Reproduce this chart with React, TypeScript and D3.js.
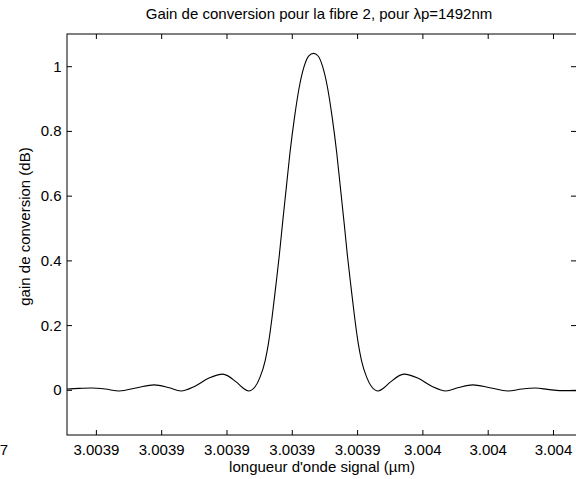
import React from "react";
import * as d3 from "d3";

const W = 576;
const H = 479;

const title = "Gain de conversion pour la fibre 2, pour λp=1492nm";
const xLabel = "longueur d'onde signal (µm)";
const yLabel = "gain de conversion (dB)";

const xDomain = [3.003851, 3.0040072];
const yDomain = [-0.138, 1.101];

const xTicks = [3.00386, 3.00388, 3.0039, 3.00392, 3.00394, 3.00396, 3.00398, 3.004];
const yTicks = [0, 0.2, 0.4, 0.6, 0.8, 1];

// wavelength (µm)
const wavelength = [
  3.003851, 3.0038547, 3.0038584, 3.0038627, 3.003867, 3.0038725, 3.0038777, 3.003882,
  3.0038859, 3.0038902, 3.0038945, 3.0038987, 3.0039028, 3.0039049, 3.0039066,
  3.0039086, 3.0039101, 3.0039117, 3.0039127, 3.0039138, 3.0039149, 3.003916,
  3.003917, 3.0039181, 3.0039193, 3.0039207, 3.0039221, 3.0039236, 3.003925,
  3.0039265, 3.0039279, 3.0039293, 3.0039308, 3.0039322, 3.0039336, 3.0039348,
  3.0039359, 3.0039369, 3.003938, 3.0039391, 3.0039402, 3.0039412, 3.0039428,
  3.0039443, 3.0039463, 3.003948, 3.0039501, 3.0039542, 3.0039584, 3.0039627,
  3.003967, 3.003971, 3.0039753, 3.0039805, 3.003986, 3.0039903, 3.0039945,
  3.0039982, 3.0040019, 3.0040072,
];
// conversion gain (dB)
const gain = [
  0.004, 0.006, 0.007, 0.004, -0.002, 0.008, 0.017, 0.009,
  -0.002, 0.013, 0.038, 0.05, 0.026, 0.007, -0.002,
  0.011, 0.04, 0.092, 0.145, 0.225, 0.318, 0.415,
  0.515, 0.62, 0.735, 0.845, 0.935, 1.0, 1.033,
  1.041, 1.033, 1.0, 0.935, 0.845, 0.735, 0.62,
  0.515, 0.415, 0.318, 0.225, 0.145, 0.092, 0.04,
  0.011, -0.002, 0.007, 0.026, 0.05, 0.038, 0.013,
  -0.002, 0.009, 0.017, 0.008, -0.002, 0.004, 0.007,
  0.003, -0.001, -0.001,
];

const L = 67, R = 577, T = 34, B = 435;
const font = "'Liberation Sans', Arial, Helvetica, sans-serif";

export default function App() {
  const x = d3.scaleLinear().domain(xDomain).range([L, R]);
  const y = d3.scaleLinear().domain(yDomain).range([B, T]);
  const fmt = d3.format(".5~g");
  const pts: [number, number][] = wavelength.map((w, i) => [w, gain[i]]);
  const line = d3
    .line<[number, number]>()
    .x((d) => x(d[0]))
    .y((d) => y(d[1]))
    .curve(d3.curveMonotoneX);
  return (
    <svg
      width={W}
      height={H}
      style={{ position: "absolute", left: 0, top: 0, background: "#fff" }}
      fontFamily={font}
    >
      <rect x={0} y={0} width={W} height={H} fill="#fff" />
      <defs>
        <clipPath id="plot">
          <rect x={L} y={T} width={R - L} height={B - T} />
        </clipPath>
      </defs>
      <path d={line(pts) || ""} fill="none" stroke="#000" strokeWidth={1.1} clipPath="url(#plot)" />
      <g stroke="#000" strokeWidth={1} fill="none">
        <rect x={L} y={T} width={R - L} height={B - T} />
        {xTicks.map((t, i) => (
          <g key={"xt" + i}>
            <line x1={x(t)} x2={x(t)} y1={B} y2={B - 5} />
            <line x1={x(t)} x2={x(t)} y1={T} y2={T + 5} />
          </g>
        ))}
        {yTicks.map((t, i) => (
          <g key={"yt" + i}>
            <line x1={L} x2={L + 5} y1={y(t)} y2={y(t)} />
            <line x1={R} x2={R - 6} y1={y(t)} y2={y(t)} />
          </g>
        ))}
      </g>
      <g fontSize={15} fill="#000">
        {xTicks.map((t, i) => (
          <text key={"xl" + i} x={x(t)} y={455} textAnchor="middle">
            {fmt(t)}
          </text>
        ))}
        <text x={8} y={455} textAnchor="end">7</text>
        {yTicks.map((t, i) => (
          <text key={"yl" + i} x={61.5} y={y(t) + 5} textAnchor="end">
            {String(t)}
          </text>
        ))}
        <text x={(L + R) / 2} y={472} textAnchor="middle">
          {xLabel}
        </text>
        <text x={0} y={0} textAnchor="middle" transform={`translate(30,${(T + B) / 2 - 8}) rotate(-90)`}>
          {yLabel}
        </text>
        <text x={(L + R) / 2 - 3} y={19} textAnchor="middle">
          {title}
        </text>
      </g>
    </svg>
  );
}
